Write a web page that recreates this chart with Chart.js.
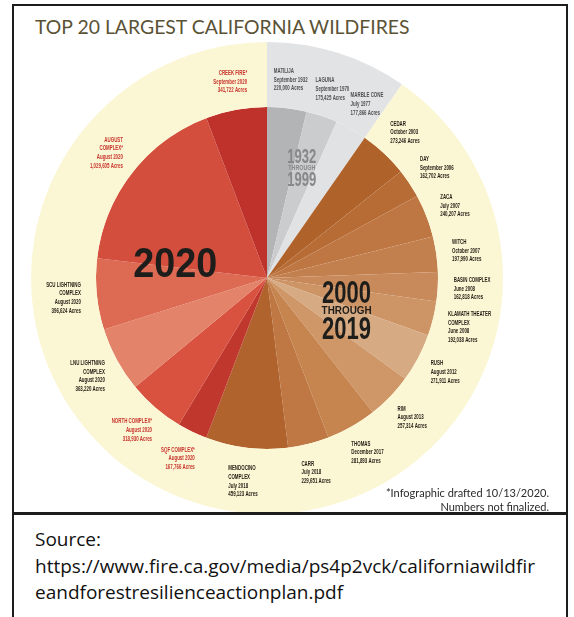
<!DOCTYPE html>
<html>
<head>
<meta charset="utf-8">
<script src="https://cdn.jsdelivr.net/npm/chart.js@4/dist/chart.umd.min.js"></script>
<style>
  body { margin: 0; width: 574px; height: 617px; overflow: hidden; background: #fff; position: relative; }
  #frame { position: absolute; left: 12px; top: 4px; width: 556px; height: 640px; border: 2px solid #1c1c1c; box-sizing: border-box; }
  #sep { position: absolute; left: 12px; top: 512px; width: 556px; height: 3px; background: #1c1c1c; }
  #clip { position: absolute; left: 14px; top: 6px; width: 552px; height: 506px; overflow: hidden; }
  #wrap { position: absolute; left: 17px; top: 36px; width: 472px; height: 472px; }
  #title { position: absolute; left: 35px; top: 16px; font: 19.4px Lato, sans-serif; color: #5a5235; white-space: nowrap; line-height: 22px; }
  #note { position: absolute; left: 0; width: 549px; top: 486px; text-align: right; font: 11px Lato, sans-serif; color: #2a2a2a; line-height: 14px; }
  #source { position: absolute; left: 35px; top: 526px; font: 19px "Open Sans", sans-serif; color: #111; line-height: 26.5px; }
</style>
</head>
<body>
<div id="frame"></div>
<div id="clip"><div id="wrap"><canvas id="fires" width="472" height="472"></canvas></div></div>
<div id="title">TOP 20 LARGEST CALIFORNIA WILDFIRES</div>
<div id="note">*Infographic drafted 10/13/2020.<br>Numbers not finalized.</div>
<div id="sep"></div>
<div id="source">Source:<br>https://www.fire.ca.gov/media/ps4p2vck/californiawildfir<br>eandforestresilienceactionplan.pdf</div>
<script>
// fires in clockwise order from the top
const nombres = ['MATILIJA', 'LAGUNA', 'MARBLE CONE', 'CEDAR', 'DAY', 'ZACA', 'WITCH', 'BASIN COMPLEX',
  'KLAMATH THEATER\nCOMPLEX', 'RUSH', 'RIM', 'THOMAS', 'CARR', 'MENDOCINO\nCOMPLEX', 'SQF COMPLEX*',
  'NORTH COMPLEX*', 'LNU LIGHTNING\nCOMPLEX', 'SCU LIGHTNING\nCOMPLEX', 'AUGUST\nCOMPLEX*', 'CREEK FIRE*'];
const fechas = ['September 1932', 'September 1970', 'July 1977', 'October 2003', 'September 2006', 'July 2007',
  'October 2007', 'June 2008', 'June 2008', 'August 2012', 'August 2013', 'December 2017', 'July 2018',
  'July 2018', 'August 2020', 'August 2020', 'August 2020', 'August 2020', 'August 2020', 'September 2020'];
const acres = [220000, 175425, 177866, 273246, 162702, 240207, 197990, 162818, 192038, 271911, 257314,
  281893, 229651, 459123, 167766, 318930, 363220, 396624, 1029605, 341722];
const periodo = [0, 0, 0, 1, 1, 1, 1, 1, 1, 1, 1, 1, 1, 1, 2, 2, 2, 2, 2, 2];
const periodos = ['1932 THROUGH 1999', '2000 THROUGH 2019', '2020'];

const colores = ['#b3b4b6', '#cbcccd', '#e1e2e3', '#b0622b', '#b76c36', '#be7743', '#c3804f', '#c88a5b',
  '#cd9466', '#d6aa82', '#cf9668', '#c6844f', '#bf7843', '#b1632d', '#c0372e', '#d9513f', '#e3836a',
  '#dd6a52', '#d44e3d', '#bf322c'];
const fondoPeriodo = ['#e2e3e4', '#fbf6d4', '#fbf6d4'];

// suma de acres por periodo para el anillo exterior
const totalPeriodo = periodos.map((p, k) => acres.filter((a, i) => periodo[i] === k).reduce((s, a) => s + a, 0));

const FUENTE = '"Liberation Sans", Arial, sans-serif';

// dibuja texto comprimido horizontalmente para imitar la fuente condensada
function textoAjustado(ctx, txt, x, yCentro, cap, ancho, color) {
  ctx.save();
  ctx.font = 'bold ' + (cap / 0.716) + 'px ' + FUENTE;
  const w = ctx.measureText(txt).width;
  ctx.translate(x, yCentro + cap / 2);
  ctx.scale(ancho / w, 1);
  ctx.textAlign = 'center';
  ctx.textBaseline = 'alphabetic';
  ctx.fillStyle = color;
  ctx.fillText(txt, 0, 0);
  ctx.restore();
}

const estiloPeriodo = [
  { r: 0.68, dx: 0, dy: 0, color: '#87888a', lineas: [['1932', -11, 14, 29], ['THROUGH', 0, 5, 27], ['1999', 12, 14, 29]] },
  { r: 0.5, dx: 4, dy: -8, color: '#1d1d1b', lineas: [['2000', -18, 23, 49], ['THROUGH', 0, 8, 50], ['2019', 18, 22, 49]] },
  { r: 0.545, dx: 0, dy: 0, color: '#1d1d1b', lineas: [['2020', 0, 31, 84]] }
];

const etiquetas = {
  id: 'etiquetas',
  afterDatasetsDraw(chart) {
    const ctx = chart.ctx;
    const sx = 0.58, tam = 7.6, paso = 8.7;
    chart.getDatasetMeta(1).data.forEach((arc, i) => {
      const p = arc.getProps(['x', 'y', 'startAngle', 'endAngle', 'outerRadius'], true);
      const mid = (p.startAngle + p.endAngle) / 2;
      const dx = Math.cos(mid), dy = Math.sin(mid);
      const ax = p.x + (p.outerRadius + 16) * dx;
      const ay = p.y + (p.outerRadius + 16) * dy;
      const lineas = nombres[i].split('\n').concat([fechas[i], acres[i].toLocaleString('en-US') + ' Acres']);
      ctx.save();
      ctx.font = 'bold ' + tam + 'px ' + FUENTE;
      const w = Math.max(...lineas.map(l => ctx.measureText(l).width)) * sx;
      const h = lineas.length * paso;
      const izq = ax - w * (1 - dx) / 2;
      const arriba = ay - h * (1 - dy) / 2;
      const alinIzq = dx > -0.15;
      ctx.fillStyle = nombres[i].includes('*') ? '#c7342c' : (periodo[i] === 0 ? '#4f4f4f' : '#241c14');
      ctx.textBaseline = 'alphabetic';
      lineas.forEach((l, j) => {
        ctx.save();
        ctx.translate(alinIzq ? izq : izq + w, arriba + (j + 1) * paso - 2);
        ctx.scale(sx, 1);
        ctx.textAlign = alinIzq ? 'left' : 'right';
        ctx.fillText(l, 0, 0);
        ctx.restore();
      });
      ctx.restore();
    });
    // textos grandes de cada periodo
    const inner = chart.getDatasetMeta(1).data[0].outerRadius;
    chart.getDatasetMeta(0).data.forEach((arc, k) => {
      const mid = (arc.startAngle + arc.endAngle) / 2;
      const est = estiloPeriodo[k];
      const cx = arc.x + inner * est.r * Math.cos(mid) + est.dx;
      const cy = arc.y + inner * est.r * Math.sin(mid) + est.dy;
      est.lineas.forEach(([t, dy, cap, ancho]) => textoAjustado(ctx, t, cx, cy + dy, cap, ancho, est.color));
    });
  }
};

new Chart(document.getElementById('fires'), {
  type: 'pie',
  data: {
    labels: nombres,
    datasets: [
      { data: totalPeriodo, backgroundColor: fondoPeriodo, borderWidth: 0, weight: 65 },
      { data: acres, backgroundColor: colores, borderWidth: 0, weight: 171 }
    ]
  },
  options: {
    responsive: false,
    animation: false,
    events: [],
    plugins: { legend: { display: false }, tooltip: { enabled: false } }
  },
  plugins: [etiquetas]
});
</script>
</body>
</html>
